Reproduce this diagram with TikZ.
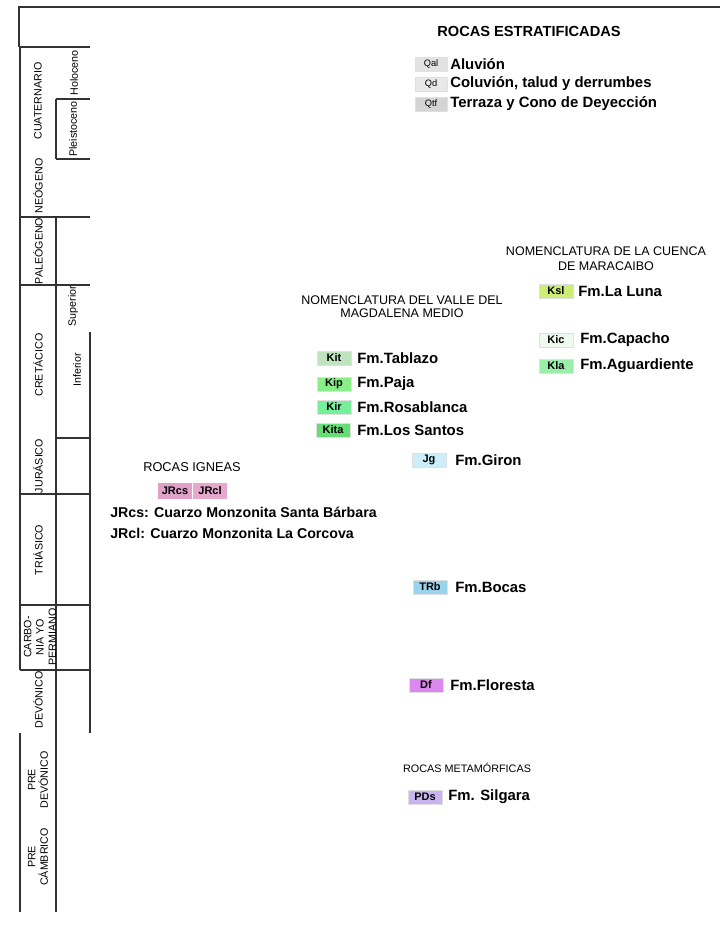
\documentclass[tikz,border=0pt]{standalone}
\usepackage{fontspec}
\setmainfont{Liberation Sans}
\definecolor{cQal}{HTML}{E2E2E2}
\definecolor{cQd}{HTML}{E8E8E8}
\definecolor{cQtf}{HTML}{D4D4D4}
\definecolor{cKsl}{HTML}{CCEE77}
\definecolor{cKic}{HTML}{EEFAEE}
\definecolor{cKla}{HTML}{99EEAA}
\definecolor{cKit}{HTML}{BFE3BF}
\definecolor{cKip}{HTML}{88EE88}
\definecolor{cKir}{HTML}{77EE99}
\definecolor{cKita}{HTML}{66DD77}
\definecolor{cJg}{HTML}{CCEEF8}
\definecolor{cJRcs}{HTML}{E0A0C8}
\definecolor{cJRcl}{HTML}{E6A8CC}
\definecolor{cTRb}{HTML}{99D4EE}
\definecolor{cDf}{HTML}{DD88EE}
\definecolor{cPDs}{HTML}{C8B4F0}
\begin{document}
\begin{tikzpicture}[x=0.025cm, y=-0.025cm,
  col/.style={line width=0.75pt, black!80},
  era/.style={rotate=90, inner sep=0pt, align=center, font=\fontsize{7.6}{8.8}\selectfont},
  unit/.style={draw=black!12, minimum width=0.86cm, minimum height=0.36cm, inner sep=0pt, font=\fontsize{7.8}{9}\selectfont\bfseries},
  qunit/.style={unit, minimum width=0.8cm, font=\fontsize{6.6}{8}\selectfont},
  fm/.style={anchor=west, inner sep=0pt, font=\fontsize{10.6}{12}\selectfont\bfseries},
  hdr/.style={align=center, inner sep=0pt, font=\fontsize{8.9}{10}\selectfont}]
  \useasboundingbox (0,0) rectangle (723,927);
  % column of ages
  \draw[col] (720,7) -- (19,7) -- (19,47);
  \draw[col] (20,47) -- (20,670);
  \draw[col] (20,733) -- (20,912);
  \draw[col] (56,99) -- (56,159);
  \draw[col] (56,217) -- (56,912);
  \draw[col] (90,332) -- (90,733);
  \foreach \y in {47,217,285,494,605,670} \draw[col] (20,\y) -- (90,\y);
  \foreach \y in {99,159,438} \draw[col] (56,\y) -- (90,\y);
  \node[era] at (38,101) (cuat) {CUATERNARIO};
  \node[era] at (38,186) (neog) {NEÓGENO};
  \node[era] at (38,251) (paleo) {PALEÓGENO};
  \node[era] at (38,365) (cret) {CRETÁCICO};
  \node[era] at (38,466) (jur) {JURÁSICO};
  \node[era] at (38,550) (trias) {TRIÁSICO};
  \node[era] at (40,637) (carb) {CARBO-\\NIA YO\\PERMIANO};
  \node[era] at (38,700) (dev) {DEVÓNICO};
  \node[era] at (38,780) (predev) {PRE\\DEVÓNICO};
  \node[era] at (38,857) (precam) {PRE\\CÁMBRICO};
  \node[era] at (74,73) (holo) {Holoceno};
  \node[era] at (73,129) (pleis) {Pleistoceno};
  \node[era] at (73,306) (sup) {Superior};
  \node[era] at (77,370) (inf) {Inferior};
  % rocas estratificadas
  \node[inner sep=0pt, font=\fontsize{10.4}{12}\selectfont\bfseries] at (529,31) (estr) {ROCAS ESTRATIFICADAS};
  \node[qunit, fill=cQal] at (431,64) (qal) {Qal};
  \node[fm] at (450,64) (qalT) {Aluvión};
  \node[qunit, fill=cQd] at (431,84) (qd) {Qd};
  \node[fm] at (450,84) (qdT) {Coluvión, talud y derrumbes};
  \node[qunit, fill=cQtf] at (431,104) (qtf) {Qtf};
  \node[fm] at (450,104) (qtfT) {Terraza y Cono de Deyección};
  % cuenca de maracaibo
  \node[hdr, font=\fontsize{8.9}{10.6}\selectfont] at (606,259) (maracaibo) {NOMENCLATURA DE LA CUENCA\\DE MARACAIBO};
  \node[unit, fill=cKsl] at (556,291) (ksl) {Ksl};
  \node[fm] at (578,291) (kslT) {Fm.La Luna};
  \node[unit, fill=cKic] at (556,340) (kic) {Kic};
  \node[fm] at (580,340) (kicT) {Fm.Capacho};
  \node[unit, fill=cKla] at (556,366) (kla) {Kla};
  \node[fm] at (580,366) (klaT) {Fm.Aguardiente};
  % valle del magdalena medio
  \node[hdr, font=\fontsize{8.9}{9.2}\selectfont] at (402,307) (magdalena) {NOMENCLATURA DEL VALLE DEL\\MAGDALENA MEDIO};
  \node[unit, fill=cKit] at (334,358) (kit) {Kit};
  \node[fm] at (357,358) (kitT) {Fm.Tablazo};
  \node[unit, fill=cKip] at (334,384) (kip) {Kip};
  \node[fm] at (357,384) (kipT) {Fm.Paja};
  \node[unit, fill=cKir] at (334,407) (kir) {Kir};
  \node[fm] at (357,407) (kirT) {Fm.Rosablanca};
  \node[unit, fill=cKita] at (333,430) (kita) {Kita};
  \node[fm] at (357,430) (kitaT) {Fm.Los Santos};
  \node[unit, fill=cJg] at (429,460) (jg) {Jg};
  \node[fm] at (455,460) (jgT) {Fm.Giron};
  % rocas igneas
  \node[hdr, font=\fontsize{9.1}{10}\selectfont] at (192,467) (igneas) {ROCAS IGNEAS};
  \node[unit, draw=none, fill=cJRcs, minimum height=0.42cm] at (175,491) (jrcs) {JRcs};
  \node[unit, draw=none, fill=cJRcl, minimum height=0.42cm] at (210,491) (jrcl) {JRcl};
  \node[fm, font=\fontsize{10.1}{12}\selectfont\bfseries] at (110,512) (jrcsT) {JRcs: Cuarzo Monzonita Santa Bárbara};
  \node[fm, font=\fontsize{10.1}{12}\selectfont\bfseries] at (110,533) (jrclT) {JRcl: Cuarzo Monzonita La Corcova};
  % older units
  \node[unit, fill=cTRb] at (430,587) (trb) {TRb};
  \node[fm] at (455,587) (trbT) {Fm.Bocas};
  \node[unit, fill=cDf] at (426,685) (df) {Df};
  \node[fm] at (450,685) (dfT) {Fm.Floresta};
  \node[hdr, font=\fontsize{7.7}{9}\selectfont] at (467,768) (metam) {ROCAS METAMÓRFICAS};
  \node[unit, fill=cPDs] at (425,797) (pds) {PDs};
  \node[fm] at (448,797) (pdsT) {Fm. Silgara};
\end{tikzpicture}
\end{document}
